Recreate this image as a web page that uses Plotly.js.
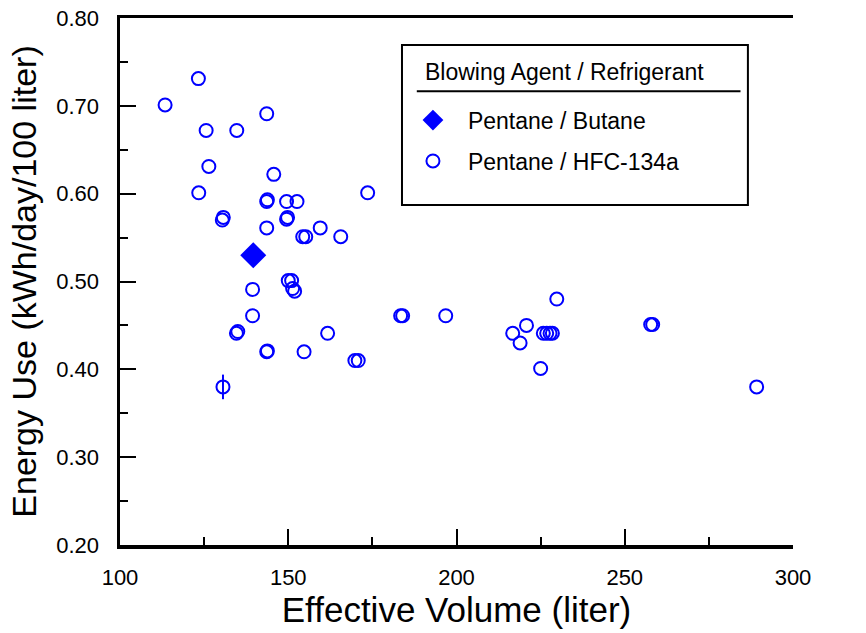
<!DOCTYPE html>
<html>
<head>
<meta charset="utf-8">
<script src="https://cdn.plot.ly/plotly-3.0.1.min.js"></script>
<style>html,body{margin:0;padding:0;background:#fff;}#chart{width:866px;height:633px;}</style>
</head>
<body>
<div id="chart"></div>
<script>
// Pentane / Butane
const butaneVolume = [139.6];
const butaneEnergy = [0.530];

// Pentane / HFC-134a
const hfcVolume = [113.4, 123.3, 143.6, 125.6, 134.7, 126.4, 145.7, 123.4, 173.6, 143.6, 143.8, 149.5, 152.6,
  130.4, 130.7, 149.5, 149.8, 143.6, 154.3, 155.2, 159.5, 165.6, 150.0, 151.0, 139.4, 151.3, 151.9,
  139.4, 183.4, 184.0, 196.8, 134.6, 135.0, 161.7, 143.6, 143.8, 154.7, 169.8, 170.8, 130.6,
  216.7, 220.8, 218.9, 225.8, 226.8, 227.8, 228.5, 229.8, 225.0, 257.7, 258.3, 289.2];
const hfcEnergy = [0.701, 0.731, 0.691, 0.672, 0.672, 0.631, 0.622, 0.601, 0.601, 0.591, 0.593, 0.591, 0.591,
  0.570, 0.573, 0.571, 0.573, 0.561, 0.551, 0.551, 0.561, 0.551, 0.501, 0.501, 0.491, 0.492, 0.489,
  0.461, 0.461, 0.461, 0.461, 0.441, 0.443, 0.441, 0.420, 0.421, 0.420, 0.410, 0.410, 0.380,
  0.441, 0.450, 0.430, 0.441, 0.441, 0.441, 0.441, 0.480, 0.401, 0.451, 0.451, 0.380];
const hfcError = hfcVolume.map((v, i) => (v === 130.6 && hfcEnergy[i] === 0.380) ? 0.014 : 0);

const xTickVals = [100, 150, 200, 250, 300];
const xTickText = ['100', '150', '200', '250', '300'];
const yTickVals = [0.2, 0.3, 0.4, 0.5, 0.6, 0.7, 0.8];
const yTickText = ['0.20', '0.30', '0.40', '0.50', '0.60', '0.70', '0.80'];

const FONT = 'Liberation Sans, Arial, sans-serif';
const BLUE = '#0000ff';

const traces = [
  {
    x: butaneVolume, y: butaneEnergy, type: 'scatter', mode: 'markers',
    name: 'Pentane / Butane', legendgroup: 'a',
    marker: {symbol: 'diamond', size: 20, color: BLUE, line: {width: 0}}
  },
  {
    x: hfcVolume, y: hfcEnergy, type: 'scatter', mode: 'markers',
    name: 'Pentane / HFC-134a', legendgroup: 'b',
    marker: {symbol: 'circle-open', size: 13, color: BLUE, line: {width: 2, color: BLUE}},
    error_y: {type: 'data', array: hfcError, visible: true, color: BLUE, thickness: 2, width: 0}
  }
];

const axisCommon = {
  ticks: 'inside', ticklen: 16, tickwidth: 2, tickcolor: '#000',
  showline: true, linewidth: 3.5, linecolor: '#000',
  showgrid: false, zeroline: false,
  tickfont: {family: FONT, size: 22, color: '#000'}
};

const layout = {
  width: 866, height: 633,
  margin: {l: 120, r: 73, t: 18, b: 88},
  paper_bgcolor: '#fff', plot_bgcolor: '#fff',
  showlegend: true,
  legend: {
    x: 0.413, y: 0.847, xanchor: 'left', yanchor: 'top',
    bgcolor: 'rgba(0,0,0,0)', borderwidth: 0,
    font: {family: FONT, size: 23, color: '#000'},
    tracegroupgap: 8, itemwidth: 60
  },
  xaxis: Object.assign({}, axisCommon, {
    range: [100, 300], tickmode: 'array', tickvals: xTickVals, ticktext: xTickText,
    minor: {dtick: 25, tick0: 100, ticks: 'inside', ticklen: 8, tickwidth: 2, tickcolor: '#000'},
    mirror: true, ticklabelstandoff: 10,
    title: {text: 'Effective Volume (liter)', font: {family: FONT, size: 35, color: '#000'}, standoff: 0}
  }),
  yaxis: Object.assign({}, axisCommon, {
    range: [0.2, 0.8], tickmode: 'array', tickvals: yTickVals, ticktext: yTickText,
    minor: {dtick: 0.05, tick0: 0.2, ticks: 'inside', ticklen: 8, tickwidth: 2, tickcolor: '#000'},
    ticklabelstandoff: 13,
    title: {text: 'Energy Use (kWh/day/100 liter)', font: {family: FONT, size: 34, color: '#000'}, standoff: 10}
  }),
  yaxis2: Object.assign({}, axisCommon, {
    overlaying: 'y', side: 'right', anchor: 'x',
    range: [0.2, 0.8], tickmode: 'array', tickvals: yTickVals, ticktext: yTickText,
    minor: {dtick: 0.05, tick0: 0.2, ticks: 'inside', ticklen: 8, tickwidth: 2, tickcolor: '#000'},
    ticklabelstandoff: 19
  }),
  shapes: [
    {type: 'rect', xref: 'paper', yref: 'paper', x0: 0.419, x1: 0.933, y0: 0.645, y1: 0.949,
      line: {color: '#000', width: 2}, fillcolor: 'rgba(0,0,0,0)'},
    {type: 'line', xref: 'paper', yref: 'paper', x0: 0.441, x1: 0.922, y0: 0.861, y1: 0.861,
      line: {color: '#000', width: 2}}
  ],
  annotations: [
    {text: 'Blowing Agent / Refrigerant', xref: 'paper', yref: 'paper', x: 0.450, y: 0.8975,
      xanchor: 'left', yanchor: 'middle', showarrow: false,
      font: {family: FONT, size: 23, color: '#000'}}
  ]
};

Plotly.newPlot('chart', traces, layout, {displayModeBar: false, staticPlot: true});
</script>
</body>
</html>
